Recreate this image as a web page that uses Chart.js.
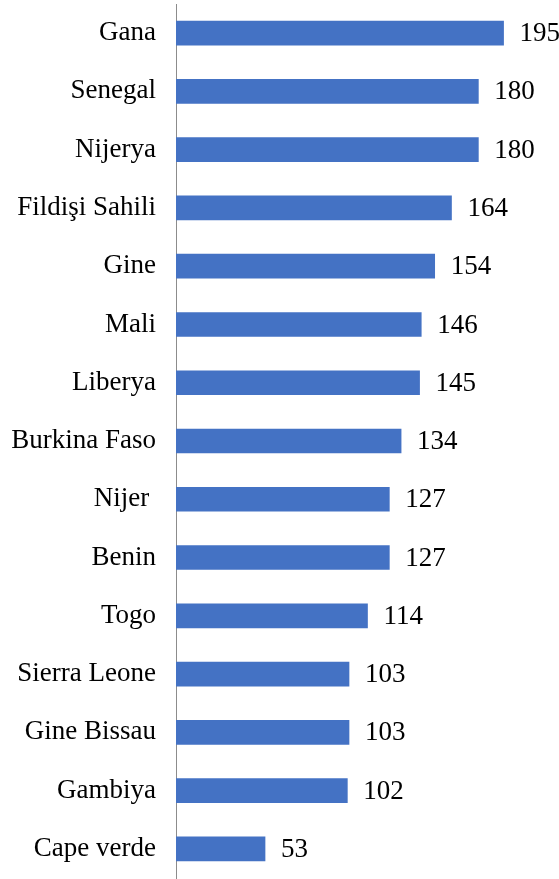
<!DOCTYPE html>
<html>
<head>
<meta charset="utf-8">
<script src="https://cdn.jsdelivr.net/npm/chart.js@4/dist/chart.umd.min.js"></script>
<style>
  html,body{margin:0;padding:0;background:#fff;}
  #wrap{width:559px;height:879px;position:relative;}
</style>
</head>
<body>
<div id="wrap"><canvas id="chart"></canvas></div>
<script>
/* data */
const countries = ["Gana","Senegal","Nijerya","Fildişi Sahili","Gine","Mali","Liberya",
  "Burkina Faso","Nijer ","Benin","Togo","Sierra Leone","Gine Bissau","Gambiya","Cape verde"];
const values = [195,180,180,164,154,146,145,134,127,127,114,103,103,102,53];

const FONT = "'Liberation Serif','Times New Roman',serif";

/* value labels at bar ends */
const valueLabels = {
  id:"valueLabels",
  afterDatasetsDraw(chart){
    const c = chart.ctx;
    const meta = chart.getDatasetMeta(0);
    c.save();
    c.font = "27px " + FONT;
    c.fillStyle = "#000";
    c.textBaseline = "middle";
    c.textAlign = "left";
    meta.data.forEach((bar,i)=>{
      c.fillText(String(values[i]), bar.x + 16, bar.y + 1);
    });
    c.restore();
  }
};

new Chart(document.getElementById("chart"),{
  type:"bar",
  data:{
    labels:countries,
    datasets:[{
      data:values,
      backgroundColor:"#4472C4",
      barThickness:24
    }]
  },
  options:{
    indexAxis:"y",
    responsive:true,
    maintainAspectRatio:false,
    animation:false,
    layout:{padding:{top:4,bottom:1,left:0,right:0}},
    plugins:{legend:{display:false},tooltip:{enabled:false}},
    scales:{
      x:{
        display:false,
        min:0,
        max:228
      },
      y:{
        grid:{display:false,drawTicks:false},
        border:{display:true,color:"#8c8c8c",width:1},
        ticks:{
          color:"#000",
          padding:20,
          font:{family:FONT,size:27}
        },
        afterFit(scale){
          scale.width = 176;
          scale.paddingTop = 0;
          scale.paddingBottom = 0;
        }
      }
    }
  },
  plugins:[valueLabels]
});
</script>
</body>
</html>
